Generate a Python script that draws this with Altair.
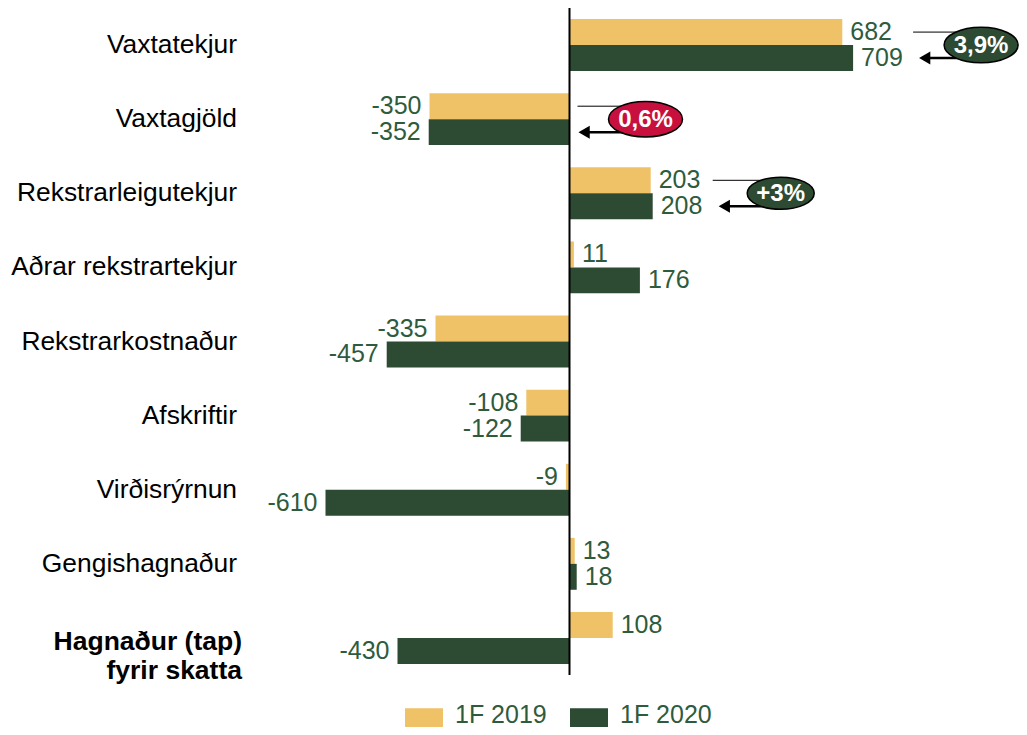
import altair as alt
import pandas as pd

# ---- data ----
categories = ["Vaxtatekjur", "Vaxtagjöld", "Rekstrarleigutekjur", "Aðrar rekstrartekjur",
              "Rekstrarkostnaður", "Afskriftir", "Virðisrýrnun", "Gengishagnaður",
              "Hagnaður (tap) fyrir skatta"]
series = ["1F 2019", "1F 2020"]
values_2019 = [682, -350, 203, 11, -335, -108, -9, 13, 108]
values_2020 = [709, -352, 208, 176, -457, -122, -610, 18, -430]

ann_categories = ["Vaxtatekjur", "Vaxtagjöld", "Rekstrarleigutekjur"]
ann_texts = ["3,9%", "0,6%", "+3%"]

GOLD = "#F0C267"
GREEN = "#2D4A33"
TEXT_GREEN = "#2F5B3D"
RED = "#C8103F"
ann_colors = [GREEN, RED, GREEN]
FONT = "Liberation Sans"

PX = 0.4  # pixels per unit
rows = []
for c, a, b in zip(categories, values_2019, values_2020):
    rows.append({"cat": c, "series": series[0], "value": a, "label": str(a)})
    rows.append({"cat": c, "series": series[1], "value": b, "label": str(b)})
df = pd.DataFrame(rows)

# annotation geometry derived from the values (in data units)
ann_rows = []
for c, t, col in zip(ann_categories, ann_texts, ann_colors):
    i = categories.index(c)
    top = max(values_2019[i], values_2020[i], 0)
    anchor = top + (52 / PX if top > 0 else 0)
    tip_px = 14 if top > 0 else 9
    ann_rows.append({
        "cat": c, "text": t, "color": col,
        "line_start": anchor + 8 / PX,
        "head": anchor + (tip_px + 5.6) / PX,
        "center": anchor + 76 / PX,
        "esize": (7 * len(t) + 46) ** 2,
        "s19": series[0], "s20": series[1],
    })
ann = pd.DataFrame(ann_rows)

xscale = alt.Scale(domain=[-1403.75, 1123.75], nice=False, zero=False)
yscale = alt.Scale(domain=categories, paddingInner=0.3, paddingOuter=0.15)
yoff_scale = alt.Scale(domain=series, paddingInner=0, paddingOuter=0)

Y = alt.Y("cat:N", scale=yscale, axis=None, sort=categories)
X = lambda f: alt.X(f, scale=xscale, axis=None)

base = alt.Chart(df)

bars = base.mark_bar().encode(
    x=X("value:Q"),
    x2=alt.datum(0),
    y=Y,
    yOffset=alt.YOffset("series:N", scale=yoff_scale),
    color=alt.Color("series:N",
                    scale=alt.Scale(domain=series, range=[GOLD, GREEN]),
                    legend=alt.Legend(orient="none", legendX=397, legendY=688,
                                      direction="horizontal", title=None,
                                      symbolType="M -1 -0.37 H 1 V 1.6 H -1 Z",
                                      symbolSize=1444,
                                      symbolStrokeWidth=0, symbolOpacity=1,
                                      labelFontSize=25, labelFont=FONT,
                                      labelColor=TEXT_GREEN, labelOffset=12,
                                      columnPadding=23, padding=0, offset=0)),
)

pos_labels = base.transform_filter("datum.value >= 0").mark_text(
    align="left", baseline="middle", dx=8, fontSize=25, font=FONT, color=TEXT_GREEN
).encode(
    x=X("value:Q"), y=Y,
    yOffset=alt.YOffset("series:N", scale=yoff_scale),
    text="label:N",
)
neg_labels = base.transform_filter("datum.value < 0").mark_text(
    align="right", baseline="middle", dx=-8, fontSize=25, font=FONT, color=TEXT_GREEN
).encode(
    x=X("value:Q"), y=Y,
    yOffset=alt.YOffset("series:N", scale=yoff_scale),
    text="label:N",
)

zero_line = alt.Chart(pd.DataFrame({"z": [0]})).mark_rule(
    color="black", strokeWidth=2
).encode(x=X("z:Q"))

cat_df = pd.DataFrame({"cat": categories[:-1]})
cat_labels = alt.Chart(cat_df).mark_text(
    align="right", baseline="middle", fontSize=26.4, font=FONT, color="black"
).encode(x=alt.value(229), y=Y, text="cat:N")

last_df = pd.DataFrame({"cat": [categories[-1]], "txt": ["Hagnaður (tap)\nfyrir skatta"]})
last_label = alt.Chart(last_df).mark_text(
    align="right", baseline="middle", fontSize=26.5, font=FONT, fontWeight="bold",
    color="black", lineBreak="\n", lineHeight=29, dy=4
).encode(x=alt.value(234), y=Y, text="txt:N")

a = alt.Chart(ann)
thin_line = a.mark_rule(color="black", strokeWidth=1).encode(
    x=X("line_start:Q"), x2="center:Q",
    y=Y, yOffset=alt.YOffset("s19:N", scale=yoff_scale))
shaft = a.mark_rule(color="black", strokeWidth=2.5).encode(
    x=X("head:Q"), x2="center:Q",
    y=Y, yOffset=alt.YOffset("s20:N", scale=yoff_scale))
heads = a.mark_point(shape="triangle-left", filled=True, color="black",
                     size=169, opacity=1).encode(
    x=X("head:Q"), y=Y, yOffset=alt.YOffset("s20:N", scale=yoff_scale))
ellipses = a.mark_point(
    shape="M -1 0 A 1 0.48 0 1 1 1 0 A 1 0.48 0 1 1 -1 0 Z",
    filled=True, stroke="black", strokeWidth=1.5, opacity=1, fillOpacity=1
).encode(
    x=X("center:Q"), y=Y,
    fill=alt.Fill("color:N", scale=None),
    size=alt.Size("esize:Q", scale=None),
)
ell_text = a.mark_text(fontSize=24, fontWeight="bold", font=FONT, color="white",
                       baseline="middle", align="center", dy=1).encode(
    x=X("center:Q"), y=Y, text="text:N")

chart = alt.layer(
    bars, pos_labels, neg_labels, zero_line, cat_labels, last_label,
    thin_line, shaft, heads, ellipses, ell_text
).properties(
    width=1011, height=667,
    padding={"left": 0, "top": 0, "right": 0, "bottom": 52},
    autosize=alt.AutoSizeParams(type="none"),
).configure_view(stroke=None)

chart.save("out.html", embed_options={"renderer": "svg", "actions": False})
